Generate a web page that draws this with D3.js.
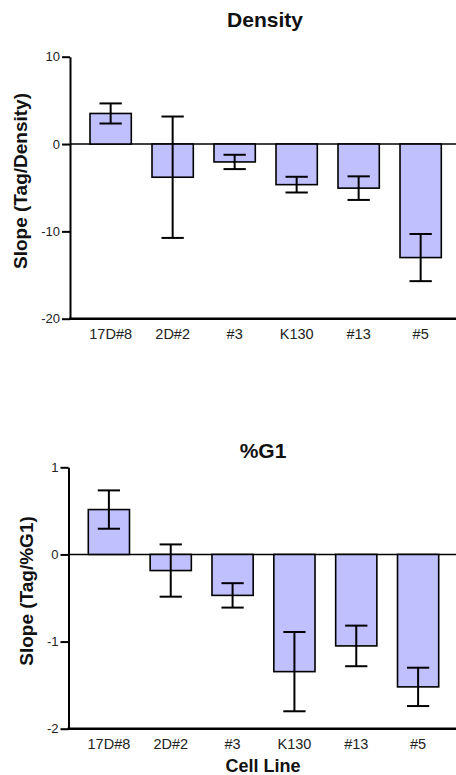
<!DOCTYPE html>
<html lang="en">
<head>
<meta charset="UTF-8">
<title>Slope by cell line</title>
<script src="https://d3js.org/d3.v7.min.js"></script>
<style>
html, body {
  margin: 0;
  padding: 0;
  background-color: white;
}
body {
  font-family: 'Liberation Sans', Arial, sans-serif;
}
.title {
  font-weight: bold;
  font-size: 21px;
  fill: #111;
  text-anchor: middle;
}
.y-label {
  font-weight: bold;
  font-size: 19px;
  fill: #111;
  text-anchor: middle;
}
.x-label {
  font-weight: bold;
  font-size: 18px;
  fill: #111;
  text-anchor: middle;
}
.y-axis text {
  font-family: 'Liberation Sans', Arial, sans-serif;
  font-size: 13px;
  fill: #222;
}
.x-axis text {
  font-family: 'Liberation Sans', Arial, sans-serif;
  font-size: 14.5px;
  fill: #222;
}
.y-axis path, .y-axis line {
  stroke: black;
  stroke-width: 2px;
}
.bar {
  fill: #c0c0ff;
  stroke: black;
  stroke-width: 1.6px;
}
.err {
  stroke: black;
  stroke-width: 2px;
}
</style>
</head>
<body>
<div id="chart"></div>
<script>

// --------------------------------------
// Data
// --------------------------------------

const cellLines = ["17D#8", "2D#2", "#3", "K130", "#13", "#5"];

const densityMean = [3.5, -3.8, -2.05, -4.65, -5.05, -13.0];
const densityErr  = [1.15, 6.95, 0.82, 0.9, 1.35, 2.7];
const densityTicks = [10, 0, -10, -20];

const g1Mean = [0.515, -0.185, -0.47, -1.345, -1.05, -1.52];
const g1Err  = [0.22, 0.30, 0.14, 0.455, 0.233, 0.22];
const g1Ticks = [1, 0, -1, -2];

// --------------------------------------
// SVG container
// --------------------------------------

let totalWidth = 456;
let totalHeight = 775;

let svg = d3.select("#chart")
  .append("svg")
  .attr("width", totalWidth)
  .attr("height", totalHeight);

// --------------------------------------
// One panel (title, axes, bars, error bars)
// --------------------------------------

function drawPanel(p) {

  let rows = cellLines.map((c, i) => ({name: c, mean: p.mean[i], err: p.err[i]}));

  let x = d3.scaleBand()
    .domain(cellLines)
    .range([p.barStart, p.barEnd])
    .paddingInner(0.334)
    .paddingOuter(0);

  let y = d3.scaleLinear()
    .domain(d3.extent(p.ticks))
    .range([p.bottom, p.top]);

  let g = svg.append("g");

  // zero line
  g.append("line")
    .attr("x1", p.axisX)
    .attr("x2", totalWidth)
    .attr("y1", y(0))
    .attr("y2", y(0))
    .attr("stroke", "black")
    .attr("stroke-width", 1.4);

  // bars
  g.selectAll(".bar")
    .data(rows)
    .join("rect")
    .attr("class", "bar")
    .attr("x", d => x(d.name))
    .attr("width", x.bandwidth())
    .attr("y", d => y(Math.max(0, d.mean)))
    .attr("height", d => Math.abs(y(d.mean) - y(0)));

  // error bars
  let capW = x.bandwidth() * 0.54;
  let eb = g.selectAll(".errbar")
    .data(rows)
    .join("g")
    .attr("class", "errbar")
    .attr("transform", d => `translate(${x(d.name) + x.bandwidth() / 2},0)`);

  eb.append("line")
    .attr("class", "err")
    .attr("x1", 0).attr("x2", 0)
    .attr("y1", d => y(d.mean + d.err))
    .attr("y2", d => y(d.mean - d.err));

  eb.append("line")
    .attr("class", "err")
    .attr("x1", -capW / 2).attr("x2", capW / 2)
    .attr("y1", d => y(d.mean + d.err))
    .attr("y2", d => y(d.mean + d.err));

  eb.append("line")
    .attr("class", "err")
    .attr("x1", -capW / 2).attr("x2", capW / 2)
    .attr("y1", d => y(d.mean - d.err))
    .attr("y2", d => y(d.mean - d.err));

  // y axis
  g.append("g")
    .attr("class", "y-axis")
    .attr("transform", `translate(${p.axisX},0)`)
    .call(d3.axisLeft(y)
      .tickValues(p.ticks)
      .tickFormat(d => String(d))
      .tickSize(8)
      .tickSizeOuter(0)
      .tickPadding(2));

  // x axis (labels only, baseline drawn below)
  let xAxis = g.append("g")
    .attr("class", "x-axis")
    .attr("transform", `translate(0,${p.bottom})`)
    .call(d3.axisBottom(x).tickSize(0).tickPadding(10));
  xAxis.select(".domain").remove();

  g.append("line")
    .attr("x1", p.axisX - 1)
    .attr("x2", totalWidth)
    .attr("y1", p.bottom)
    .attr("y2", p.bottom)
    .attr("stroke", "black")
    .attr("stroke-width", 2.4);

  // title
  g.append("text")
    .attr("class", "title")
    .attr("x", p.titleX)
    .attr("y", p.titleY)
    .text(p.title);

  // y label
  g.append("text")
    .attr("class", "y-label")
    .attr("transform", `translate(${p.labelX},${p.labelY}) rotate(-90)`)
    .text(p.yLabel);
}

drawPanel({
  title: "Density", yLabel: "Slope (Tag/Density)",
  mean: densityMean, err: densityErr, ticks: densityTicks,
  axisX: 70, top: 56.7, bottom: 318.7, barStart: 90, barEnd: 441.3,
  titleX: 265, titleY: 27, labelX: 26.5, labelY: 181
});

drawPanel({
  title: "%G1", yLabel: "Slope (Tag/%G1)",
  mean: g1Mean, err: g1Err, ticks: g1Ticks,
  axisX: 68.5, top: 467.3, bottom: 728.7, barStart: 88.3, barEnd: 438.7,
  titleX: 263, titleY: 458, labelX: 33, labelY: 591
});

// x label
svg.append("text")
  .attr("class", "x-label")
  .attr("x", 263)
  .attr("y", 772)
  .text("Cell Line");

</script>
</body>
</html>
